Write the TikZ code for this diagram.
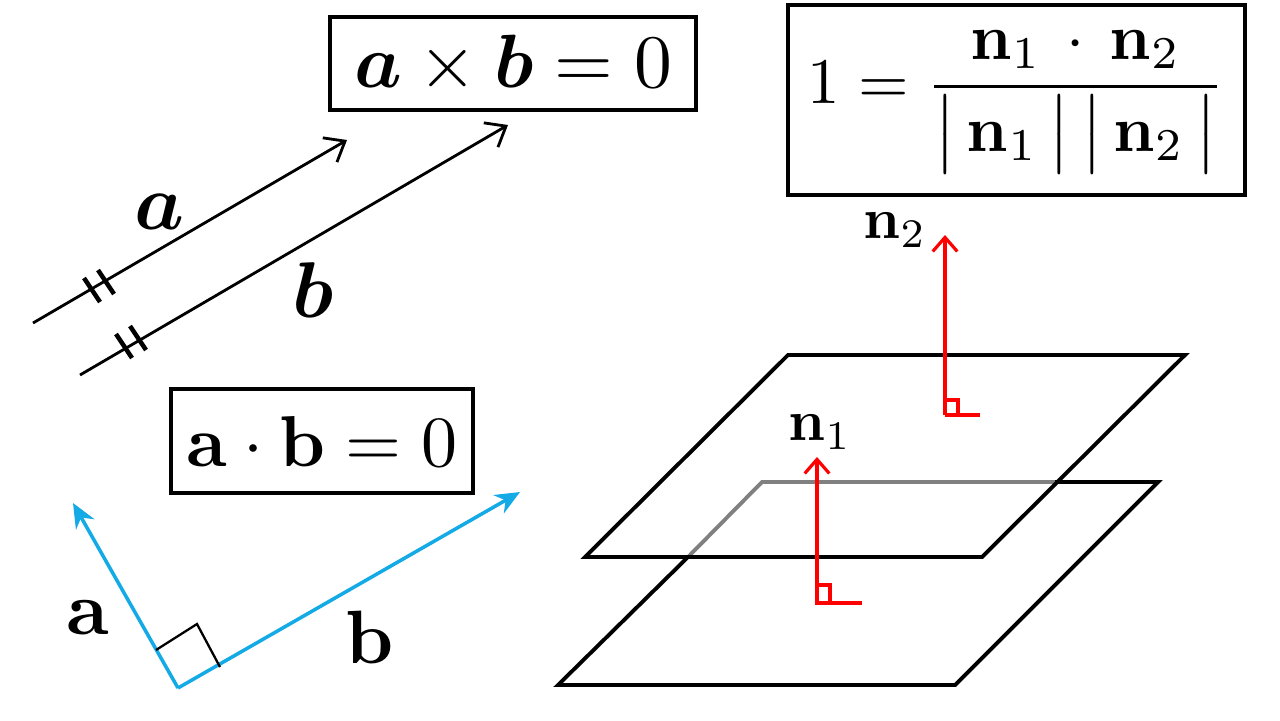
\documentclass[tikz,border=0pt]{standalone}
\usepackage{amsmath,bm}
\usetikzlibrary{arrows.meta}
\begin{document}
\begin{tikzpicture}[x=0.02cm,y=-0.02cm,
  boxs/.style={draw,line width=2.2pt,inner sep=0pt},
  blk/.style={line width=1.6pt},
  blue/.style={draw={rgb,255:red,20;green,170;blue,230},line width=2pt},
  redl/.style={draw=red,line width=1.8pt},
  plane/.style={line width=2.2pt}]
\useasboundingbox (0,0) rectangle (1280,720);
% top-left box
\draw[boxs] (330,17) rectangle (696,110);
\node[scale=4.3] (ab) at (513,64) {$\bm{a}\times\bm{b}=0$};
% parallel arrows
\coordinate (a0) at (33,323); \coordinate (a1) at (347,140);
\coordinate (b0) at (80,375); \coordinate (b1) at (508,125);
\draw[blk,-{Straight Barb[length=10pt,width=16pt]}] (a0) -- (a1);
\draw[blk,-{Straight Barb[length=10pt,width=16pt]}] (b0) -- (b1);
\draw[line width=2.6pt] (84,278) -- (100,302) (98,270) -- (114,294);
\draw[line width=2.6pt] (116,334) -- (132,358) (130,326) -- (146,350);
\node[scale=4.5] (la) at (160,212) {$\bm{a}$};
\node[scale=4.5] (lb) at (313,290) {$\bm{b}$};
% dot box
\draw[boxs] (171,389) rectangle (473,493);
\node[scale=4.1] (dot) at (322,441) {$\mathbf{a}\cdot\mathbf{b}=0$};
% blue vectors
\coordinate (o) at (178,688);
\coordinate (va) at (73,503); \coordinate (vb) at (520,492);
\draw[blue,-{Stealth[length=14pt,width=12pt]}] (o) -- (va);
\draw[blue,-{Stealth[length=14pt,width=12pt]}] (o) -- (vb);
\draw[line width=1.3pt] (156,650) -- (197,624) -- (220,667);
\node[scale=4.3] (lba) at (88,618) {$\mathbf{a}$};
\node[scale=4.3] (lbb) at (370,637) {$\mathbf{b}$};
% planes
\draw[plane,gray] (688,557) -- (762,482) -- (1055,482);
\draw[plane] (1055,482) -- (1158,482) -- (955,685) -- (558,685) -- (688,557);
\draw[plane] (585,557) -- (788,355) -- (1185,355) -- (982,557) -- cycle;
% normals
\draw[redl,-{Straight Barb[length=8pt,width=14pt]}] (817,605) -- (817,457);
\draw[redl] (817,585) -- (830,585) -- (830,603) (817,603) -- (862,603);
\node[scale=3.3] (n1) at (820,432) {$\mathbf{n}_1$};
\draw[redl,-{Straight Barb[length=8pt,width=14pt]}] (945,415) -- (945,235);
\draw[redl] (945,400) -- (958,400) -- (958,415) (945,415) -- (980,415);
\node[scale=3.3] (n2) at (895,230) {$\mathbf{n}_2$};
% right box
\draw[boxs] (788,5) rectangle (1245,195);
\node[scale=3.7] (fr) at (1016,102) {$1=\dfrac{\mathbf{n}_1\,\cdot\,\mathbf{n}_2}{\bigl|\,\mathbf{n}_1\,\bigr|\,\bigl|\,\mathbf{n}_2\,\bigr|}$};
\end{tikzpicture}
\end{document}
